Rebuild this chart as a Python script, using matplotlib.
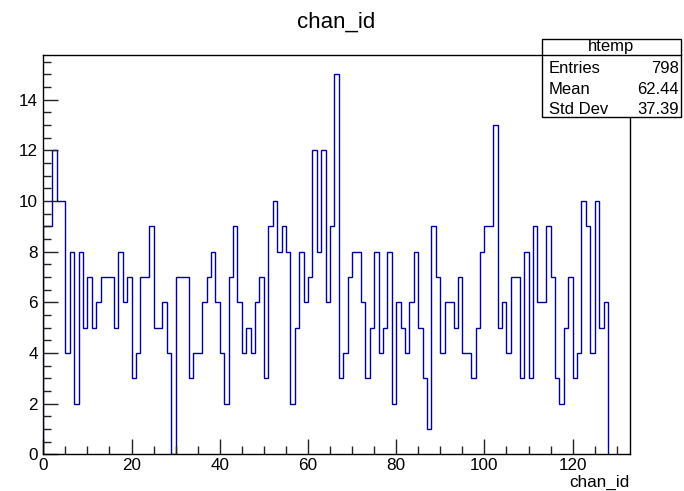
import numpy as np
import matplotlib
matplotlib.use("Agg")
import matplotlib.pyplot as plt
from matplotlib.ticker import MultipleLocator

counts = [9, 9, 12, 10, 10, 4, 8, 2, 8, 5,
          7, 5, 6, 7, 7, 7, 5, 8, 6, 7,
          3, 4, 7, 7, 9, 5, 5, 6, 4, 0,
          7, 7, 7, 3, 4, 4, 6, 7, 8, 6,
          4, 2, 7, 9, 6, 4, 5, 4, 6, 7,
          3, 9, 10, 8, 9, 8, 2, 5, 8, 6,
          7, 12, 8, 12, 6, 9, 15, 3, 4, 7,
          8, 8, 6, 3, 5, 8, 4, 5, 8, 2,
          6, 5, 4, 6, 8, 5, 3, 1, 9, 7,
          4, 6, 6, 5, 7, 4, 4, 3, 5, 8,
          9, 9, 13, 5, 6, 4, 7, 7, 3, 8,
          3, 9, 6, 6, 9, 7, 3, 2, 5, 7,
          3, 4, 10, 9, 4, 10, 5, 6]
bin_edges = np.arange(len(counts) + 1)
title = "chan_id"
xlabel = "chan_id"
stats_name = "htemp"
stats_labels = ["Entries", "Mean", "Std Dev"]
stats_values = ["798", "62.44", "37.39"]

plt.rcParams['font.family'] = ['Liberation Sans', 'DejaVu Sans']

W, H = 684, 491
fig = plt.figure(figsize=(W / 100, H / 100), dpi=100)
L, R, T, B = 43.3, 630, 55.3, 454.3
ax = fig.add_axes([L / W, 1 - B / H, (R - L) / W, (B - T) / H])

ax.stairs(counts, bin_edges, baseline=0, color='#000099', linewidth=1.0)
ax.set_xlim(0, 133)
ax.set_ylim(0, 15.75)

ax.xaxis.set_major_locator(MultipleLocator(20))
ax.xaxis.set_minor_locator(MultipleLocator(5))
ax.yaxis.set_major_locator(MultipleLocator(2))
ax.yaxis.set_minor_locator(MultipleLocator(0.5))
ax.tick_params(which='both', direction='in', top=False, right=False, colors='#222222',
               labelcolor='black', labelsize=12.3)
ax.tick_params(which='major', length=11, width=1)
ax.tick_params(which='minor', length=6, width=1)
ax.tick_params(axis='y', pad=4)
ax.tick_params(axis='x', pad=3)
for s in ax.spines.values():
    s.set_linewidth(1.0)
    s.set_color('black')

fig.text(336 / W, 1 - 22 / H, title, ha='center', va='center', fontsize=16)
fig.text(R / W, 1 - 482 / H, xlabel, ha='right', va='center', fontsize=12.3)

# stats box
bx0, by0, bx1, by1 = 541.7, 39, 681, 117.3
box = plt.Rectangle((bx0 / W, 1 - by1 / H), (bx1 - bx0) / W, (by1 - by0) / H,
                    transform=fig.transFigure, facecolor='white', edgecolor='black',
                    linewidth=1.0, zorder=5)
fig.add_artist(box)
sep = plt.Line2D([bx0 / W, bx1 / W], [1 - 55 / H, 1 - 55 / H], transform=fig.transFigure,
                 color='black', linewidth=1.0, zorder=6)
fig.add_artist(sep)
fig.text((bx0 + bx1) / 2 / W, 1 - 47 / H, stats_name, ha='center', va='center',
         fontsize=12, zorder=7)
rows_y = [68.3, 89.3, 109.3]
for lab, val, yy in zip(stats_labels, stats_values, rows_y):
    fig.text(549 / W, 1 - yy / H, lab, ha='left', va='center', fontsize=12, zorder=7)
    fig.text(679 / W, 1 - yy / H, val, ha='right', va='center', fontsize=12, zorder=7)

fig.savefig("out.png", dpi=100)
